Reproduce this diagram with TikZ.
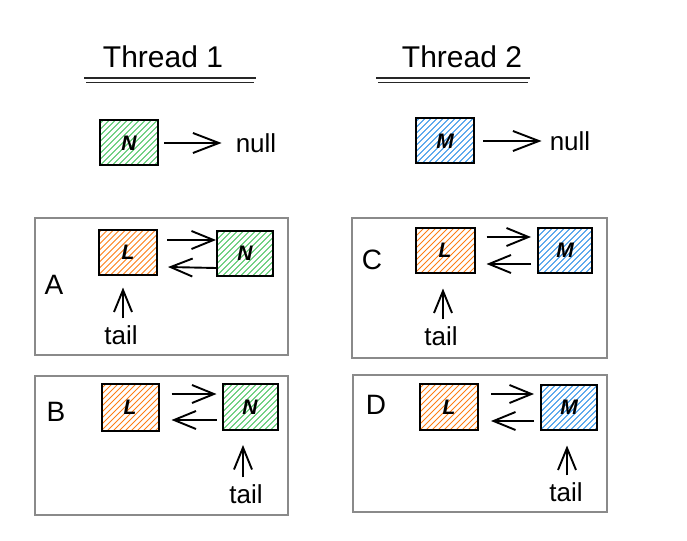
\documentclass[tikz,border=0pt]{standalone}
\usepackage{fontspec}
\setmainfont{Liberation Sans}
\usetikzlibrary{arrows.meta}
\definecolor{greenH}{HTML}{40C057}
\definecolor{orangeH}{HTML}{FD7E14}
\definecolor{blueH}{HTML}{228BE6}
\definecolor{frameC}{HTML}{8A8A8A}
\tikzset{
  hatch/.style={path picture={\foreach \k in {-54,-48,...,66}{\draw[#1,line width=0.9pt] ([xshift=\k pt]path picture bounding box.south west) -- ++(70pt,70pt);}}},
  cell/.style={draw=black,line width=2pt,minimum width=58pt,minimum height=45pt,inner sep=0pt,font=\fontsize{21}{21}\selectfont\bfseries\itshape},
  gcell/.style={cell,hatch=greenH},
  ocell/.style={cell,hatch=orangeH},
  bcell/.style={cell,hatch=blueH},
  arr/.style={-{Straight Barb[length=22pt,width=18pt,line width=1.9pt]},line width=1.9pt,black},
  arrbig/.style={-{Straight Barb[length=26pt,width=20pt,line width=1.9pt]},line width=1.9pt,black},
  lab/.style={font=\fontsize{26}{26}\selectfont,inner sep=0pt},
  big/.style={font=\fontsize{28}{28}\selectfont,inner sep=0pt},
  title/.style={font=\fontsize{30}{30}\selectfont,inner sep=0pt},
  frame/.style={draw=frameC,line width=2pt},
  uline/.style={line width=1.8pt,black!85},
}
\begin{document}
\begin{tikzpicture}[x=1pt,y=-1pt]
\useasboundingbox (0,0) rectangle (687,540);
% titles
\node[title] (t1) at (163,57) {Thread 1};
\node[title] (t2) at (462,57) {Thread 2};
\draw[uline] (84,78) -- (256,78);
\draw[uline] (86,82.5) -- (254,82.5);
\draw[uline] (376,78) -- (530,78);
\draw[uline] (378,82.5) -- (528,82.5);
% top rows
\node[gcell] (n0) at (129,143) {N};
\node[lab] (null1) at (256,143) {null};
\draw[arrbig] ([xshift=5pt]n0.east) -- ([xshift=-14pt]null1.west);
\node[bcell] (m0) at (445,141) {M};
\node[lab] (null2) at (570,141) {null};
\draw[arrbig] ([xshift=8pt]m0.east) -- ([xshift=-8pt]null2.west);
% frames
\draw[frame] (35,218) rectangle (288,355);
\draw[frame] (352,218) rectangle (607,358);
\draw[frame] (35,376) rectangle (288,515);
\draw[frame] (353,375) rectangle (607,512);
% Panel A
\node[big] (la) at (54,285) {A};
\node[ocell] (aL) at (128,252) {L};
\node[gcell,minimum width=56pt] (aN) at (245,253) {N};
\draw[arr] ([xshift=9pt,yshift=12pt]aL.east) -- ([yshift=13pt]aN.west);
\draw[arr] ([yshift=-15pt]aN.west) -- ([xshift=10pt,yshift=-15pt]aL.east);
\node[lab] (ta) at (121,335) {tail};
\draw[arr] ([xshift=2pt,yshift=7pt]ta.north) -- ([yshift=-12pt,xshift=-5pt]aL.south);
% Panel C
\node[big] (lc) at (372,260) {C};
\node[ocell,minimum width=59pt] (cL) at (445,250) {L};
\node[bcell,minimum width=54pt] (cM) at (565,250) {M};
\draw[arr] ([xshift=11pt,yshift=13pt]cL.east) -- ([xshift=-6pt,yshift=13pt]cM.west);
\draw[arr] ([xshift=-6pt,yshift=-14pt]cM.west) -- ([xshift=11pt,yshift=-14pt]cL.east);
\node[lab] (tc) at (441,336) {tail};
\draw[arr] ([xshift=2pt,yshift=7pt]tc.north) -- ([yshift=-15pt,xshift=-2pt]cL.south);
% Panel B
\node[big] (lb) at (56,412) {B};
\node[ocell,minimum width=57pt,minimum height=47pt] (bL) at (130,407) {L};
\node[gcell,minimum width=55pt,minimum height=46pt] (bN) at (250,407) {N};
\draw[arr] ([xshift=12pt,yshift=13pt]bL.east) -- ([xshift=-5pt,yshift=13pt]bN.west);
\draw[arr] ([xshift=-5pt,yshift=-13pt]bN.west) -- ([xshift=12pt,yshift=-13pt]bL.east);
\node[lab] (tb) at (246,494) {tail};
\draw[arr] ([xshift=-3pt,yshift=7pt]tb.north) -- ([yshift=-14pt,xshift=-7pt]bN.south);
% Panel D
\node[big] (ld) at (376,405) {D};
\node[ocell,minimum width=58pt,minimum height=46pt] (dL) at (449,407) {L};
\node[bcell,minimum width=56pt,minimum height=45pt] (dM) at (569,407) {M};
\draw[arr] ([xshift=12pt,yshift=13pt]dL.east) -- ([xshift=-6pt,yshift=13pt]dM.west);
\draw[arr] ([xshift=-6pt,yshift=-14pt]dM.west) -- ([xshift=12pt,yshift=-14pt]dL.east);
\node[lab] (td) at (566,492) {tail};
\draw[arr] ([xshift=1pt,yshift=7pt]td.north) -- ([yshift=-15pt,xshift=-2pt]dM.south);
\end{tikzpicture}
\end{document}
